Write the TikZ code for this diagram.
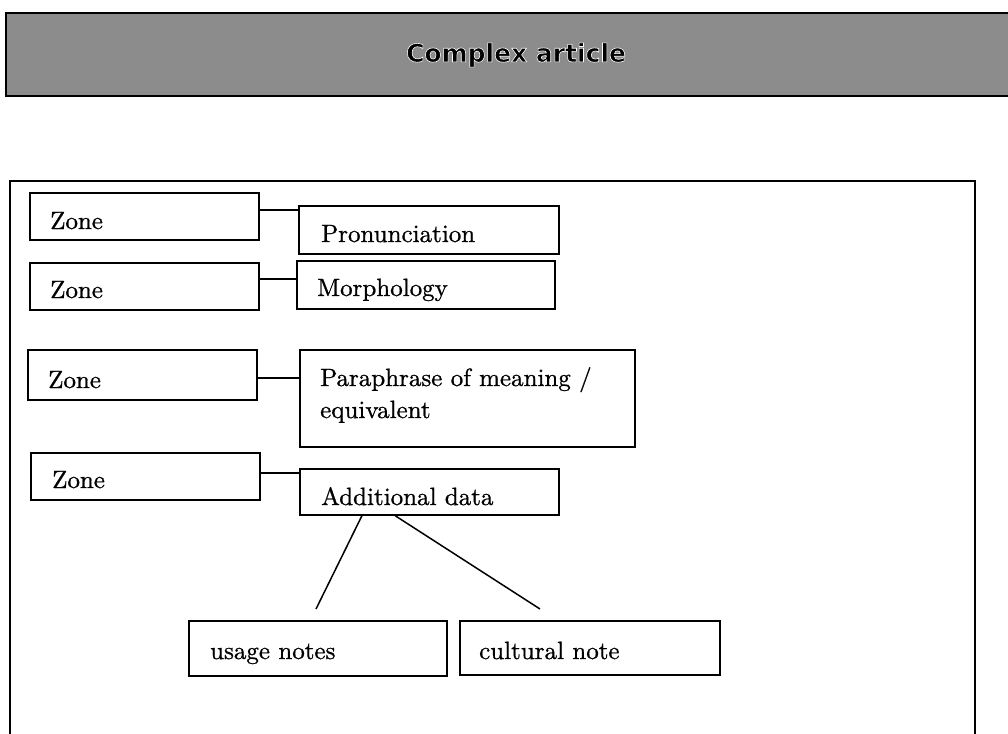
\documentclass[tikz,border=0pt]{standalone}
\usepackage{fontspec}
\newfontfamily\headfont{DejaVu Sans}
\newfontfamily\boxfont{lmroman10-regular.otf}[FakeBold=0.8]
\definecolor{bandgray}{RGB}{140,140,140}
% black lettering with a white rim, drawn as one text
\newcommand\rimtext[1]{\special{pdf:literal direct 2 Tr 0.6 w 1 1 1 RG}#1\special{pdf:literal direct 0 Tr 0 0 0 RG}}
\begin{document}
\begin{tikzpicture}[x=1pt,y=-1pt,
  box/.style={draw=black,line width=1.6pt,anchor=north west,inner sep=0pt},
  txt/.style={anchor=base west,inner sep=0pt,font=\boxfont\fontsize{25}{29}\selectfont},
  link/.style={draw=black,line width=1.5pt}]
\useasboundingbox (0,0) rectangle (1008,733);

% title band
\node[draw=black,line width=2pt,fill=bandgray,anchor=north west,inner sep=0pt,
      minimum width=1010pt,minimum height=83pt] (band) at (5,12) {};
\node[font=\headfont\bfseries\fontsize{25}{29}\selectfont] (title) at (516,55) {\rimtext{Complex article}};

% frame of the article (open at the bottom)
\coordinate (fl) at (10,740);
\coordinate (fr) at (975,740);
\draw[line width=1.8pt] (fl) -- (10,181) -- (975,181) -- (fr);

% zone boxes and their contents
\node[box,minimum width=229pt,minimum height=47pt] (z1) at (29,192) {};
\node[box,minimum width=260pt,minimum height=48pt] (pron) at (298,205) {};
\node[box,minimum width=229pt,minimum height=47pt] (z2) at (29,262) {};
\node[box,minimum width=258pt,minimum height=48pt] (morph) at (296,260) {};
\node[box,minimum width=229pt,minimum height=50pt] (z3) at (27,349) {};
\node[box,minimum width=335pt,minimum height=97pt] (para) at (299,349) {};
\node[box,minimum width=229pt,minimum height=47pt] (z4) at (30,452) {};
\node[box,minimum width=259pt,minimum height=46pt] (add) at (299,468) {};
\node[box,minimum width=258pt,minimum height=55pt] (usage) at (188,620) {};
\node[box,minimum width=260pt,minimum height=54pt] (cult) at (459,620) {};

\node[txt] (t1) at (50,229) {Zone};
\node[txt] (t2) at (321,242) {Pronunciation};
\node[txt] (t3) at (50,298) {Zone};
\node[txt] (t4) at (317,296) {Morphology};
\node[txt] (t5) at (48,388) {Zone};
\node[txt] (t6) at (320,386) {Paraphrase of meaning /};
\node[txt] (t7) at (320,418) {equivalent};
\node[txt] (t8) at (52,488) {Zone};
\node[txt] (t9) at (321,505) {Additional data};
\node[txt] (t10) at (210,659) {usage notes};
\node[txt] (t11) at (479,659) {cultural note};

% connectors
\draw[link] ([yshift=-18pt]z1.north east) -- ([yshift=-18pt]z1.north east -| pron.west);
\draw[link] ([yshift=-17pt]z2.north east) -- ([yshift=-17pt]z2.north east -| morph.west);
\draw[link] ([yshift=-29pt]z3.north east) -- ([yshift=-29pt]z3.north east -| para.west);
\draw[link] ([yshift=-21pt]z4.north east) -- ([yshift=-21pt]z4.north east -| add.west);

\coordinate (u) at (316,609);
\coordinate (c) at (540,609);
\draw[link] ([xshift=63pt]add.south west) -- (u);
\draw[link] ([xshift=96pt]add.south west) -- (c);
\end{tikzpicture}
\end{document}
